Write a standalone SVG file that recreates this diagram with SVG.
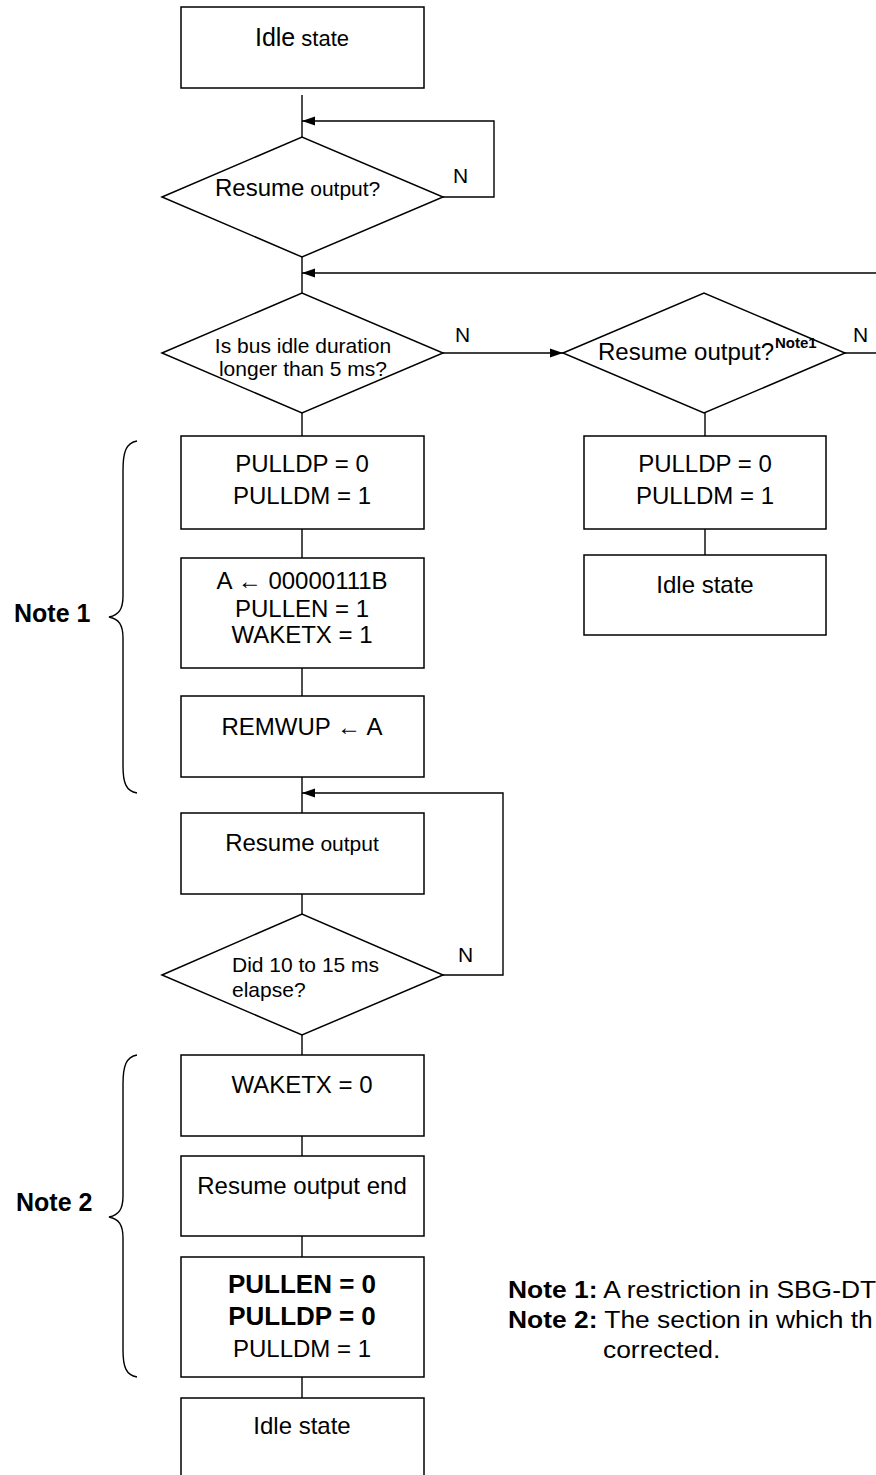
<svg xmlns="http://www.w3.org/2000/svg" width="876" height="1475" viewBox="0 0 876 1475">
<defs>
<marker id="ah" markerWidth="14" markerHeight="10" refX="13" refY="5" orient="auto" markerUnits="userSpaceOnUse"><path d="M0,0.5 L13,5 L0,9.5 Z" fill="#000"/></marker>
<style>
.box{fill:#fff;stroke:#000;stroke-width:1.5}
.ln{fill:none;stroke:#000;stroke-width:1.4}
.arr{fill:none;stroke:#000;stroke-width:1.4;marker-end:url(#ah)}
.br{fill:none;stroke:#000;stroke-width:1.4}
text{font-family:"Liberation Sans",Arial,sans-serif;fill:#000}
.t{font-size:24px;text-anchor:middle}
.ts{font-size:24px}
.b{font-size:26px;font-weight:bold;text-anchor:middle}
.q{font-size:21px}
.qm{font-size:21px;text-anchor:middle}
.sm{font-size:21px}
.nl{font-size:25px;font-weight:bold}
.sup{font-size:15px;font-weight:bold}
.nt{font-size:24px}
</style>
</defs>
<rect x="0" y="0" width="876" height="1475" fill="#fff"/>

<g id="connectors">
<path class="ln" d="M302,95 V137"/>
<path class="arr" d="M443,197 H494 V121 H302"/>
<path class="ln" d="M302,257 V293"/>
<path class="arr" d="M880,273 H302"/>
<path class="ln" d="M302,413 V436"/>
<path class="arr" d="M443,353 H563"/>
<path class="ln" d="M845,353 H880"/>
<path class="ln" d="M705,413 V436"/>
<path class="ln" d="M705,529 V555"/>
<path class="ln" d="M302,529 V558"/>
<path class="ln" d="M302,668 V696"/>
<path class="ln" d="M302,777 V813"/>
<path class="arr" d="M443,975 H503 V793 H302"/>
<path class="ln" d="M302,894 V914"/>
<path class="ln" d="M302,1035 V1055"/>
<path class="ln" d="M302,1136 V1156"/>
<path class="ln" d="M302,1236 V1257"/>
<path class="ln" d="M302,1377 V1398"/>
<text class="q" x="453" y="183">N</text>
<text class="q" x="455" y="342">N</text>
<text class="q" x="853" y="342">N</text>
<text class="q" x="458" y="962">N</text>
</g>

<g id="idle1">
<rect class="box" x="181" y="7" width="243" height="81"/>
<text class="t" x="302" y="46"><tspan font-size="25px">Idle</tspan><tspan font-size="22px"> state</tspan></text>
</g>

<g id="dec1">
<polygon class="box" points="162,197 302,137 443,197 302,257"/>
<text class="ts" x="215" y="196">Resume<tspan class="sm"> output?</tspan></text>
</g>

<g id="dec2">
<polygon class="box" points="162,353 302,293 443,353 302,413"/>
<text class="qm" x="303" y="353">Is bus idle duration</text>
<text class="qm" x="303" y="376">longer than 5 ms?</text>
</g>

<g id="dec2r">
<polygon class="box" points="563,353 704,293 845,353 704,413"/>
<text class="ts" x="598" y="360">Resume output?</text>
<text class="sup" x="775" y="348">Note1</text>
</g>

<g id="boxR1">
<rect class="box" x="584" y="436" width="242" height="93"/>
<text class="t" x="705" y="472">PULLDP = 0</text>
<text class="t" x="705" y="504">PULLDM = 1</text>
</g>

<g id="boxR2">
<rect class="box" x="584" y="555" width="242" height="80"/>
<text class="t" x="705" y="593">Idle state</text>
</g>

<g id="box1">
<rect class="box" x="181" y="436" width="243" height="93"/>
<text class="t" x="302" y="472">PULLDP = 0</text>
<text class="t" x="302" y="504">PULLDM = 1</text>
</g>

<g id="box2">
<rect class="box" x="181" y="558" width="243" height="110"/>
<text class="t" x="302" y="589">A ← 00000111B</text>
<text class="t" x="302" y="617">PULLEN = 1</text>
<text class="t" x="302" y="643">WAKETX = 1</text>
</g>

<g id="box3">
<rect class="box" x="181" y="696" width="243" height="81"/>
<text class="t" x="302" y="735">REMWUP ← A</text>
</g>

<g id="box4">
<rect class="box" x="181" y="813" width="243" height="81"/>
<text class="t" x="302" y="851">Resume<tspan class="sm"> output</tspan></text>
</g>

<g id="dec3">
<polygon class="box" points="162,975 302,914 443,975 302,1035"/>
<text class="q" x="232" y="972">Did 10 to 15 ms</text>
<text class="q" x="232" y="997">elapse?</text>
</g>

<g id="box5">
<rect class="box" x="181" y="1055" width="243" height="81"/>
<text class="t" x="302" y="1093">WAKETX = 0</text>
</g>

<g id="box6">
<rect class="box" x="181" y="1156" width="243" height="80"/>
<text class="t" x="302" y="1194">Resume output end</text>
</g>

<g id="box7">
<rect class="box" x="181" y="1257" width="243" height="120"/>
<text class="b" x="302" y="1293">PULLEN = 0</text>
<text class="b" x="302" y="1325">PULLDP = 0</text>
<text class="t" x="302" y="1357">PULLDM = 1</text>
</g>

<g id="box8">
<rect class="box" x="181" y="1398" width="243" height="90"/>
<text class="t" x="302" y="1434">Idle state</text>
</g>

<g id="note1-brace">
<path class="br" d="M137,441 C126,443 123,452 123,470 L123,596 C123,609 119,615 109,617 C119,619 123,625 123,638 L123,766 C123,783 126,791 137,793"/>
<text class="nl" x="14" y="622">Note 1</text>
</g>

<g id="note2-brace">
<path class="br" d="M137,1055 C126,1057 123,1066 123,1084 L123,1196 C123,1209 119,1215 109,1217 C119,1219 123,1225 123,1238 L123,1350 C123,1367 126,1375 137,1377"/>
<text class="nl" x="16" y="1211">Note 2</text>
</g>

<g id="notes">
<text class="nt" transform="matrix(1.1,0,0,1,508,0)" x="0" y="1298"><tspan font-weight="bold">Note 1:</tspan> A restriction in SBG-DT</text>
<text class="nt" transform="matrix(1.1,0,0,1,508,0)" x="0" y="1328"><tspan font-weight="bold">Note 2:</tspan> The section in which th</text>
<text class="nt" transform="matrix(1.1,0,0,1,603,0)" x="0" y="1358">corrected.</text>
</g>
</svg>
